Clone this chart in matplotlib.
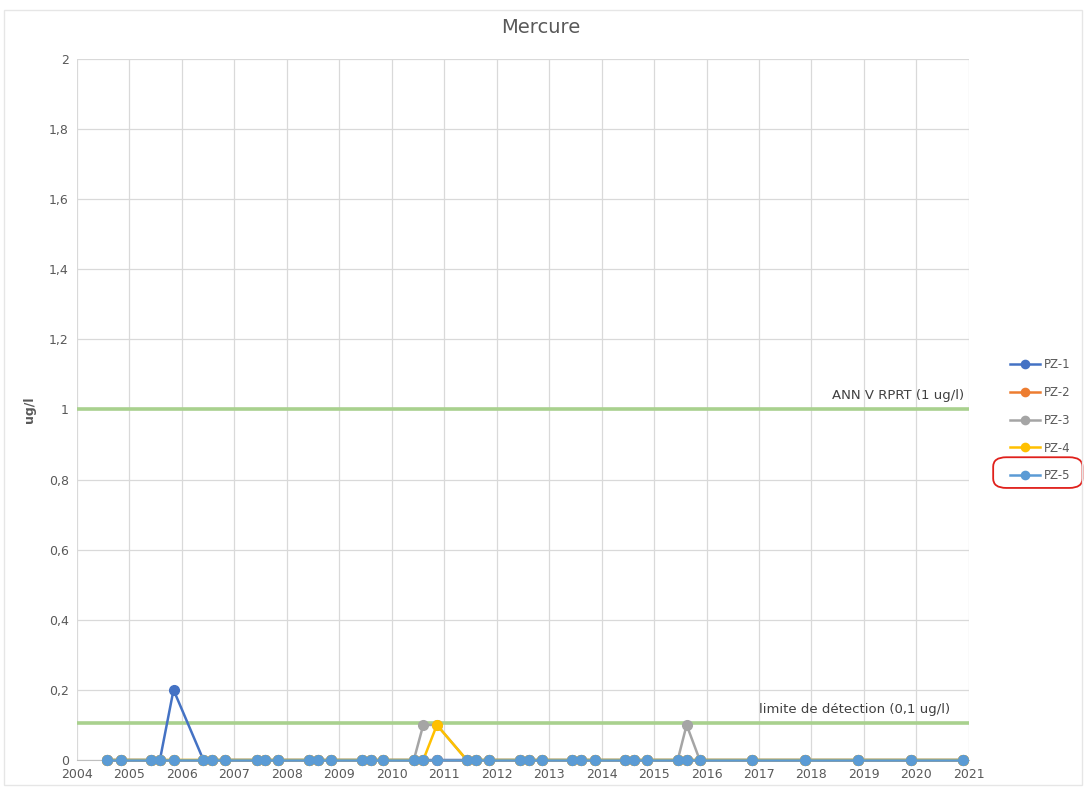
import numpy as np
import matplotlib
matplotlib.use("Agg")
import matplotlib.pyplot as plt
from matplotlib.patches import FancyBboxPatch, Rectangle

# sampling dates (decimal years)
dates = [2004.58, 2004.83,
         2005.41, 2005.58, 2005.84,
         2006.41, 2006.58, 2006.83,
         2007.43, 2007.59, 2007.84,
         2008.42, 2008.60, 2008.85,
         2009.43, 2009.60, 2009.84,
         2010.42, 2010.60, 2010.86,
         2011.43, 2011.60, 2011.86,
         2012.44, 2012.61, 2012.86,
         2013.44, 2013.61, 2013.87,
         2014.44, 2014.61, 2014.87,
         2015.45, 2015.62, 2015.87,
         2016.87, 2017.88, 2018.89, 2019.89, 2020.89]

pz1 = [0.0] * len(dates)
pz2 = [0.0] * len(dates)
pz3 = [0.0] * len(dates)
pz4 = [0.0] * len(dates)
pz5 = [0.0] * len(dates)
pz1[dates.index(2005.84)] = 0.2
pz3[dates.index(2010.60)] = 0.1
pz3[dates.index(2010.86)] = 0.1
pz3[dates.index(2015.62)] = 0.1
pz4[dates.index(2010.86)] = 0.1

series_names = ['PZ-1', 'PZ-2', 'PZ-3', 'PZ-4', 'PZ-5']
series_vals = [pz1, pz2, pz3, pz4, pz5]
series_colors = ['#4472C4', '#ED7D31', '#A5A5A5', '#FFC000', '#5B9BD5']

limit_ann = 1.0
limit_det = 0.105
years = list(range(2004, 2022))
yticks = [0, 0.2, 0.4, 0.6, 0.8, 1.0, 1.2, 1.4, 1.6, 1.8, 2.0]

fig = plt.figure(figsize=(10.89, 7.87), dpi=100)
ax = fig.add_axes([0.0707, 0.0343, 0.819, 0.891])

txt = '#595959'
ax.axhline(limit_ann, color='#A9D18E', lw=2.6, zorder=2)
ax.axhline(limit_det, color='#A9D18E', lw=2.6, zorder=2)

for i, (name, vals, c) in enumerate(zip(series_names, series_vals, series_colors)):
    ax.plot(dates, vals, color=c, marker='o', markersize=7, lw=1.8,
            label=name, zorder=3 + i * 0.1, clip_on=False)

ax.set_xlim(2004, 2021)
ax.set_ylim(0, 2)
ax.set_xticks(years)
ax.set_xticklabels([str(y) for y in years], fontsize=9, color=txt)
ax.set_yticks(yticks)
ax.set_yticklabels([('%g' % v).replace('.', ',') for v in yticks], fontsize=9, color=txt)
ax.tick_params(length=0, pad=6)
ax.grid(True, color='#D9D9D9', lw=0.9)
ax.set_axisbelow(True)
for s in ['top', 'right', 'left']:
    ax.spines[s].set_visible(False)
ax.spines['bottom'].set_color('#BFBFBF')
ax.spines['bottom'].set_zorder(1)

ax.set_ylabel('ug/l', fontsize=9, color=txt, fontweight='bold', labelpad=9)
fig.text(0.497, 0.965, 'Mercure', ha='center', va='center', fontsize=14, color=txt)

ax.text(2020.9, 1.02, 'ANN V RPRT (1 ug/l)', ha='right', va='bottom', fontsize=9.5, color='#404040')
ax.text(2020.65, 0.125, 'limite de détection (0,1 ug/l)', ha='right', va='bottom', fontsize=9.5, color='#404040')

leg = fig.legend(loc='center left', bbox_to_anchor=(0.918, 0.466), frameon=False,
                 fontsize=8.5, labelspacing=1.25, handlelength=2.5, handletextpad=0.3,
                 markerscale=0.85)
for t in leg.get_texts():
    t.set_color(txt)

# red hand-drawn highlight around PZ-5
fig.patches.append(FancyBboxPatch((0.916, 0.384), 0.074, 0.031,
                                  boxstyle='round,pad=0.004,rounding_size=0.012',
                                  transform=fig.transFigure, fill=False,
                                  edgecolor='#E0201B', lw=1.3))
# screenshot frame
fig.patches.append(Rectangle((0.004, 0.002), 0.99, 0.985, transform=fig.transFigure,
                             fill=False, edgecolor='#E6E6E6', lw=1.0))

fig.savefig('out.png', dpi=100)
